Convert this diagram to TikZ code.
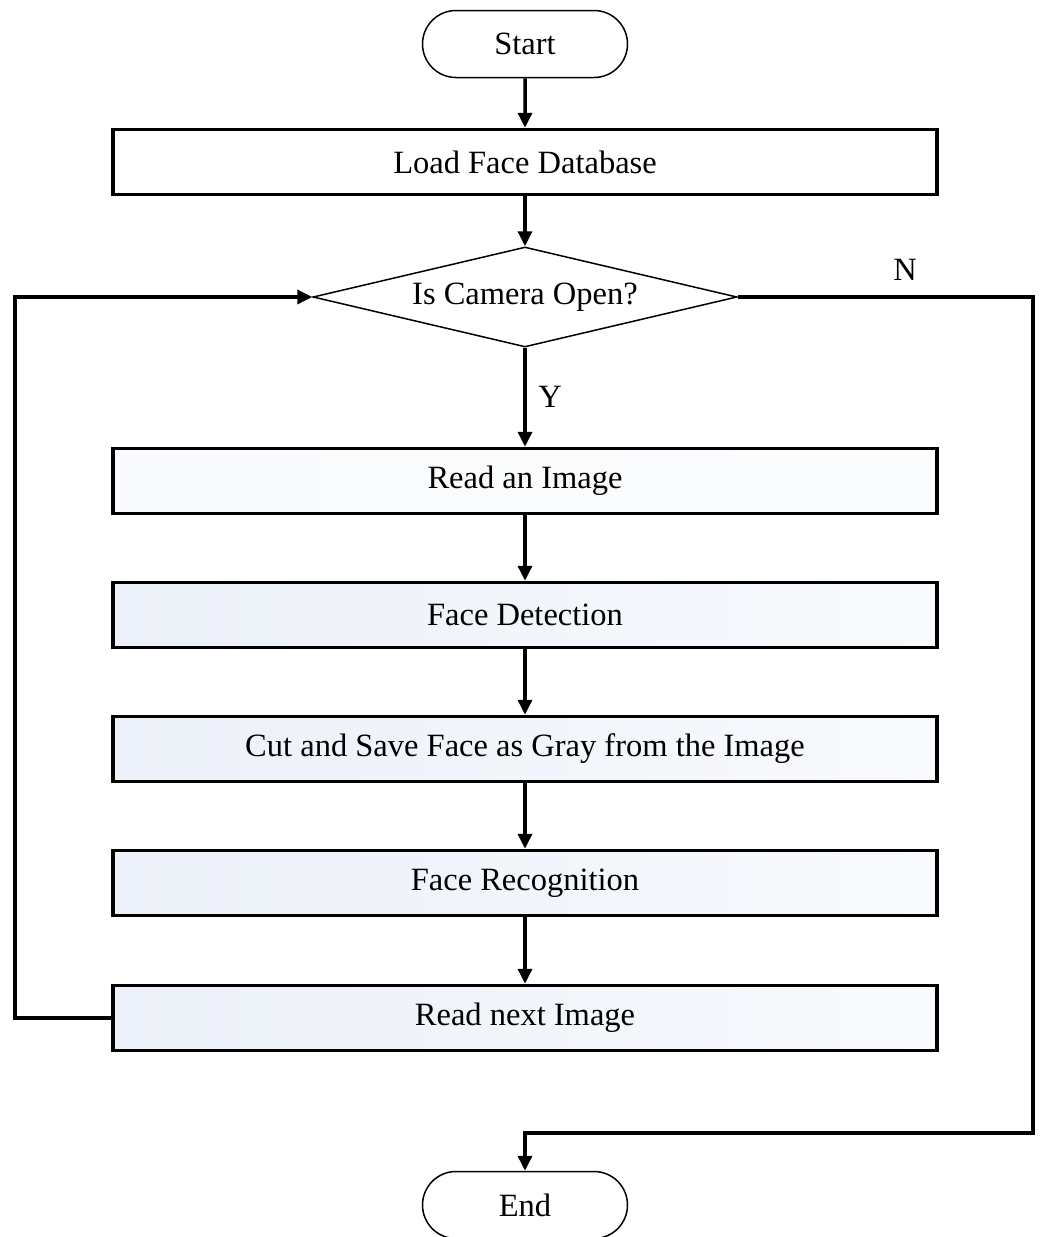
\documentclass[tikz,border=0pt]{standalone}
\usepackage{fontspec}
\setmainfont{Liberation Serif}
\usetikzlibrary{shapes.geometric,shapes.misc,arrows.meta}
\definecolor{boxleft}{RGB}{236,240,248}
\definecolor{boxright}{RGB}{248,250,253}
\tikzset{
  term/.style={rounded rectangle,draw,line width=1.5pt,minimum width=205pt,minimum height=67pt,inner sep=0pt},
  stepbox/.style={rectangle,draw,line width=3.5pt,minimum width=824pt,minimum height=65pt,inner sep=0pt,left color=boxleft,right color=boxright},
  decide/.style={diamond,draw,line width=1.5pt,minimum width=424pt,minimum height=100pt,aspect=4.24,inner sep=0pt},
  arr/.style={line width=3.5pt,-{Triangle[length=15pt,width=14pt]}},
  lbl/.style={inner sep=0pt}
}
\begin{document}
\begin{tikzpicture}[x=1pt,y=-1pt,font=\fontsize{32.5}{38}\selectfont]
  \useasboundingbox (0,0) rectangle (1039,1237);
  \node[term] (start) at (525,44) {Start};
  \node[stepbox,fill=white,left color=white,right color=white] (load) at (525,162) {Load Face Database};
  \node[decide] (camera) at (525,297) {Is Camera Open?};
  \node[stepbox,left color=boxright,right color=boxright!60!white] (read) at (525,481) {Read an Image};
  \node[stepbox] (detect) at (525,615) {Face Detection};
  \node[stepbox] (cut) at (525,749) {Cut and Save Face as Gray from the Image};
  \node[stepbox] (recog) at (525,883) {Face Recognition};
  \node[stepbox] (next) at (525,1018) {Read next Image};
  \node[term] (end) at (525,1205) {End};
  \node[lbl] (yes) at (550,397) {Y};
  \node[lbl] (no) at (905,270) {N};
  \coordinate (loopL) at (15,0);
  \coordinate (loopR) at (1033,1133);
  % main flow
  \draw[arr] (start) -- (load);
  \draw[arr] (load) -- (camera);
  \draw[arr] (camera) -- (read);
  \draw[arr] (read) -- (detect);
  \draw[arr] (detect) -- (cut);
  \draw[arr] (cut) -- (recog);
  \draw[arr] (recog) -- (next);
  % loops
  \draw[arr] (next.west) -- (next.west -| loopL) |- (camera.west);
  \draw[arr] (camera.east) -| (loopR) -| (end.north);
\end{tikzpicture}
\end{document}
